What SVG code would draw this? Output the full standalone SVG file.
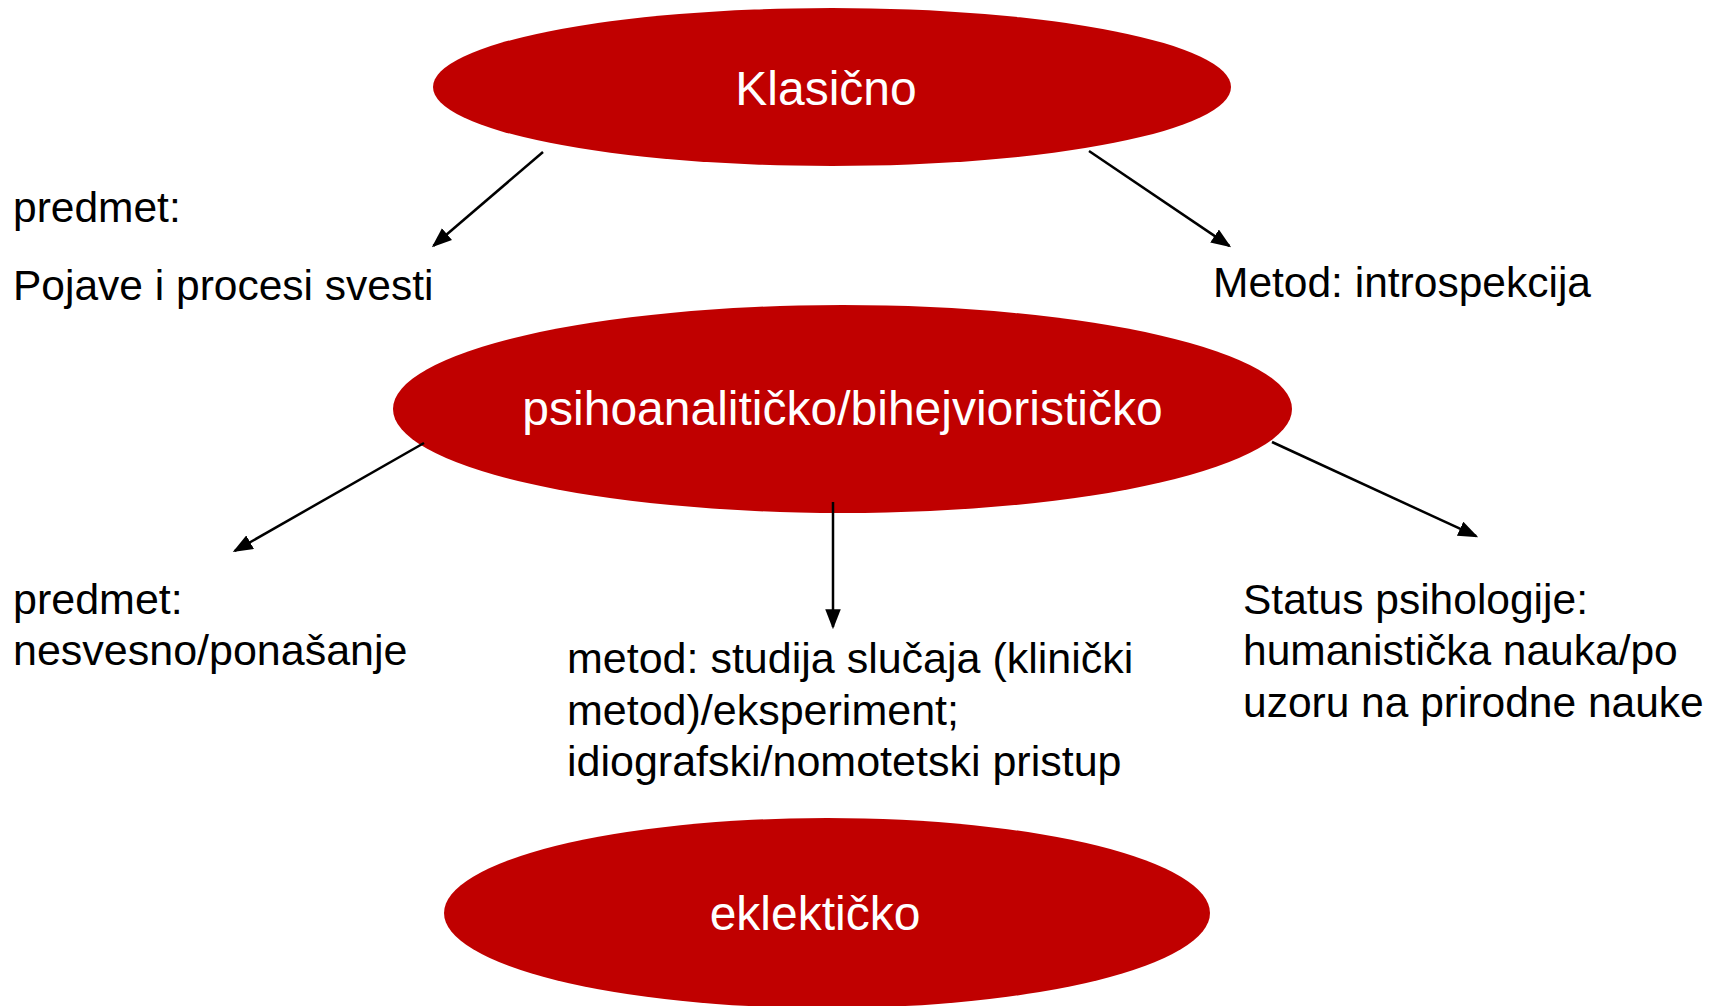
<svg xmlns="http://www.w3.org/2000/svg" width="1723" height="1006" viewBox="0 0 1723 1006">
<style>
.node{fill:#C00000}
.nt{font-family:"Liberation Sans",Arial,sans-serif;fill:#FFFFFF;text-anchor:middle}
.lbl{font-family:"Liberation Sans",Arial,sans-serif;font-size:42.5px;fill:#000000}
.lbl43{font-size:43px}
.conn{stroke:#000000;stroke-width:2.5;fill:none}
</style>
<defs>
<marker id="arr" markerUnits="userSpaceOnUse" markerWidth="20" markerHeight="16" viewBox="0 0 18 14" refX="16" refY="7" orient="auto">
<path d="M0,0 L18,7 L0,14 z" fill="#000000"/>
</marker>
</defs>
<rect x="0" y="0" width="1723" height="1006" fill="#FFFFFF"/>
<g id="node-klasicno">
<ellipse class="node" cx="832" cy="87" rx="399" ry="79"/>
<text class="nt" x="826" y="105" font-size="48">Klasično</text>
</g>
<g id="node-psiho">
<ellipse class="node" cx="842.5" cy="409" rx="449.5" ry="104"/>
<text class="nt" x="842.5" y="425" font-size="48">psihoanalitičko/bihejviorističko</text>
</g>
<g id="node-eklekticko">
<ellipse class="node" cx="827" cy="913" rx="383" ry="95"/>
<text class="nt" x="815" y="930" font-size="48">eklektičko</text>
</g>
<g id="label-predmet1">
<text class="lbl" x="13" y="222">predmet:</text>
<text class="lbl" x="13" y="300">Pojave i procesi svesti</text>
</g>
<g id="label-metod1">
<text class="lbl" x="1213" y="297">Metod: introspekcija</text>
</g>
<g id="label-predmet2">
<text class="lbl lbl43" x="13" y="614">predmet:</text>
<text class="lbl lbl43" x="13" y="665">nesvesno/ponašanje</text>
</g>
<g id="label-metod2">
<text class="lbl lbl43" x="567" y="673">metod: studija slučaja (klinički</text>
<text class="lbl lbl43" x="567" y="725">metod)/eksperiment;</text>
<text class="lbl lbl43" x="567" y="776">idiografski/nomotetski pristup</text>
</g>
<g id="label-status">
<text class="lbl" x="1243" y="614">Status psihologije:</text>
<text class="lbl" x="1243" y="665">humanistička nauka/po</text>
<text class="lbl" x="1243" y="717">uzoru na prirodne nauke</text>
</g>
<g id="connectors">
<line class="conn" x1="543" y1="152" x2="433.5" y2="245.7" marker-end="url(#arr)"/>
<line class="conn" x1="1089" y1="151" x2="1229.3" y2="245.9" marker-end="url(#arr)"/>
<line class="conn" x1="424" y1="443" x2="234.7" y2="551" marker-end="url(#arr)"/>
<line class="conn" x1="833" y1="502" x2="833" y2="627" marker-end="url(#arr)"/>
<line class="conn" x1="1272" y1="442" x2="1476.2" y2="536.2" marker-end="url(#arr)"/>
</g>
</svg>
